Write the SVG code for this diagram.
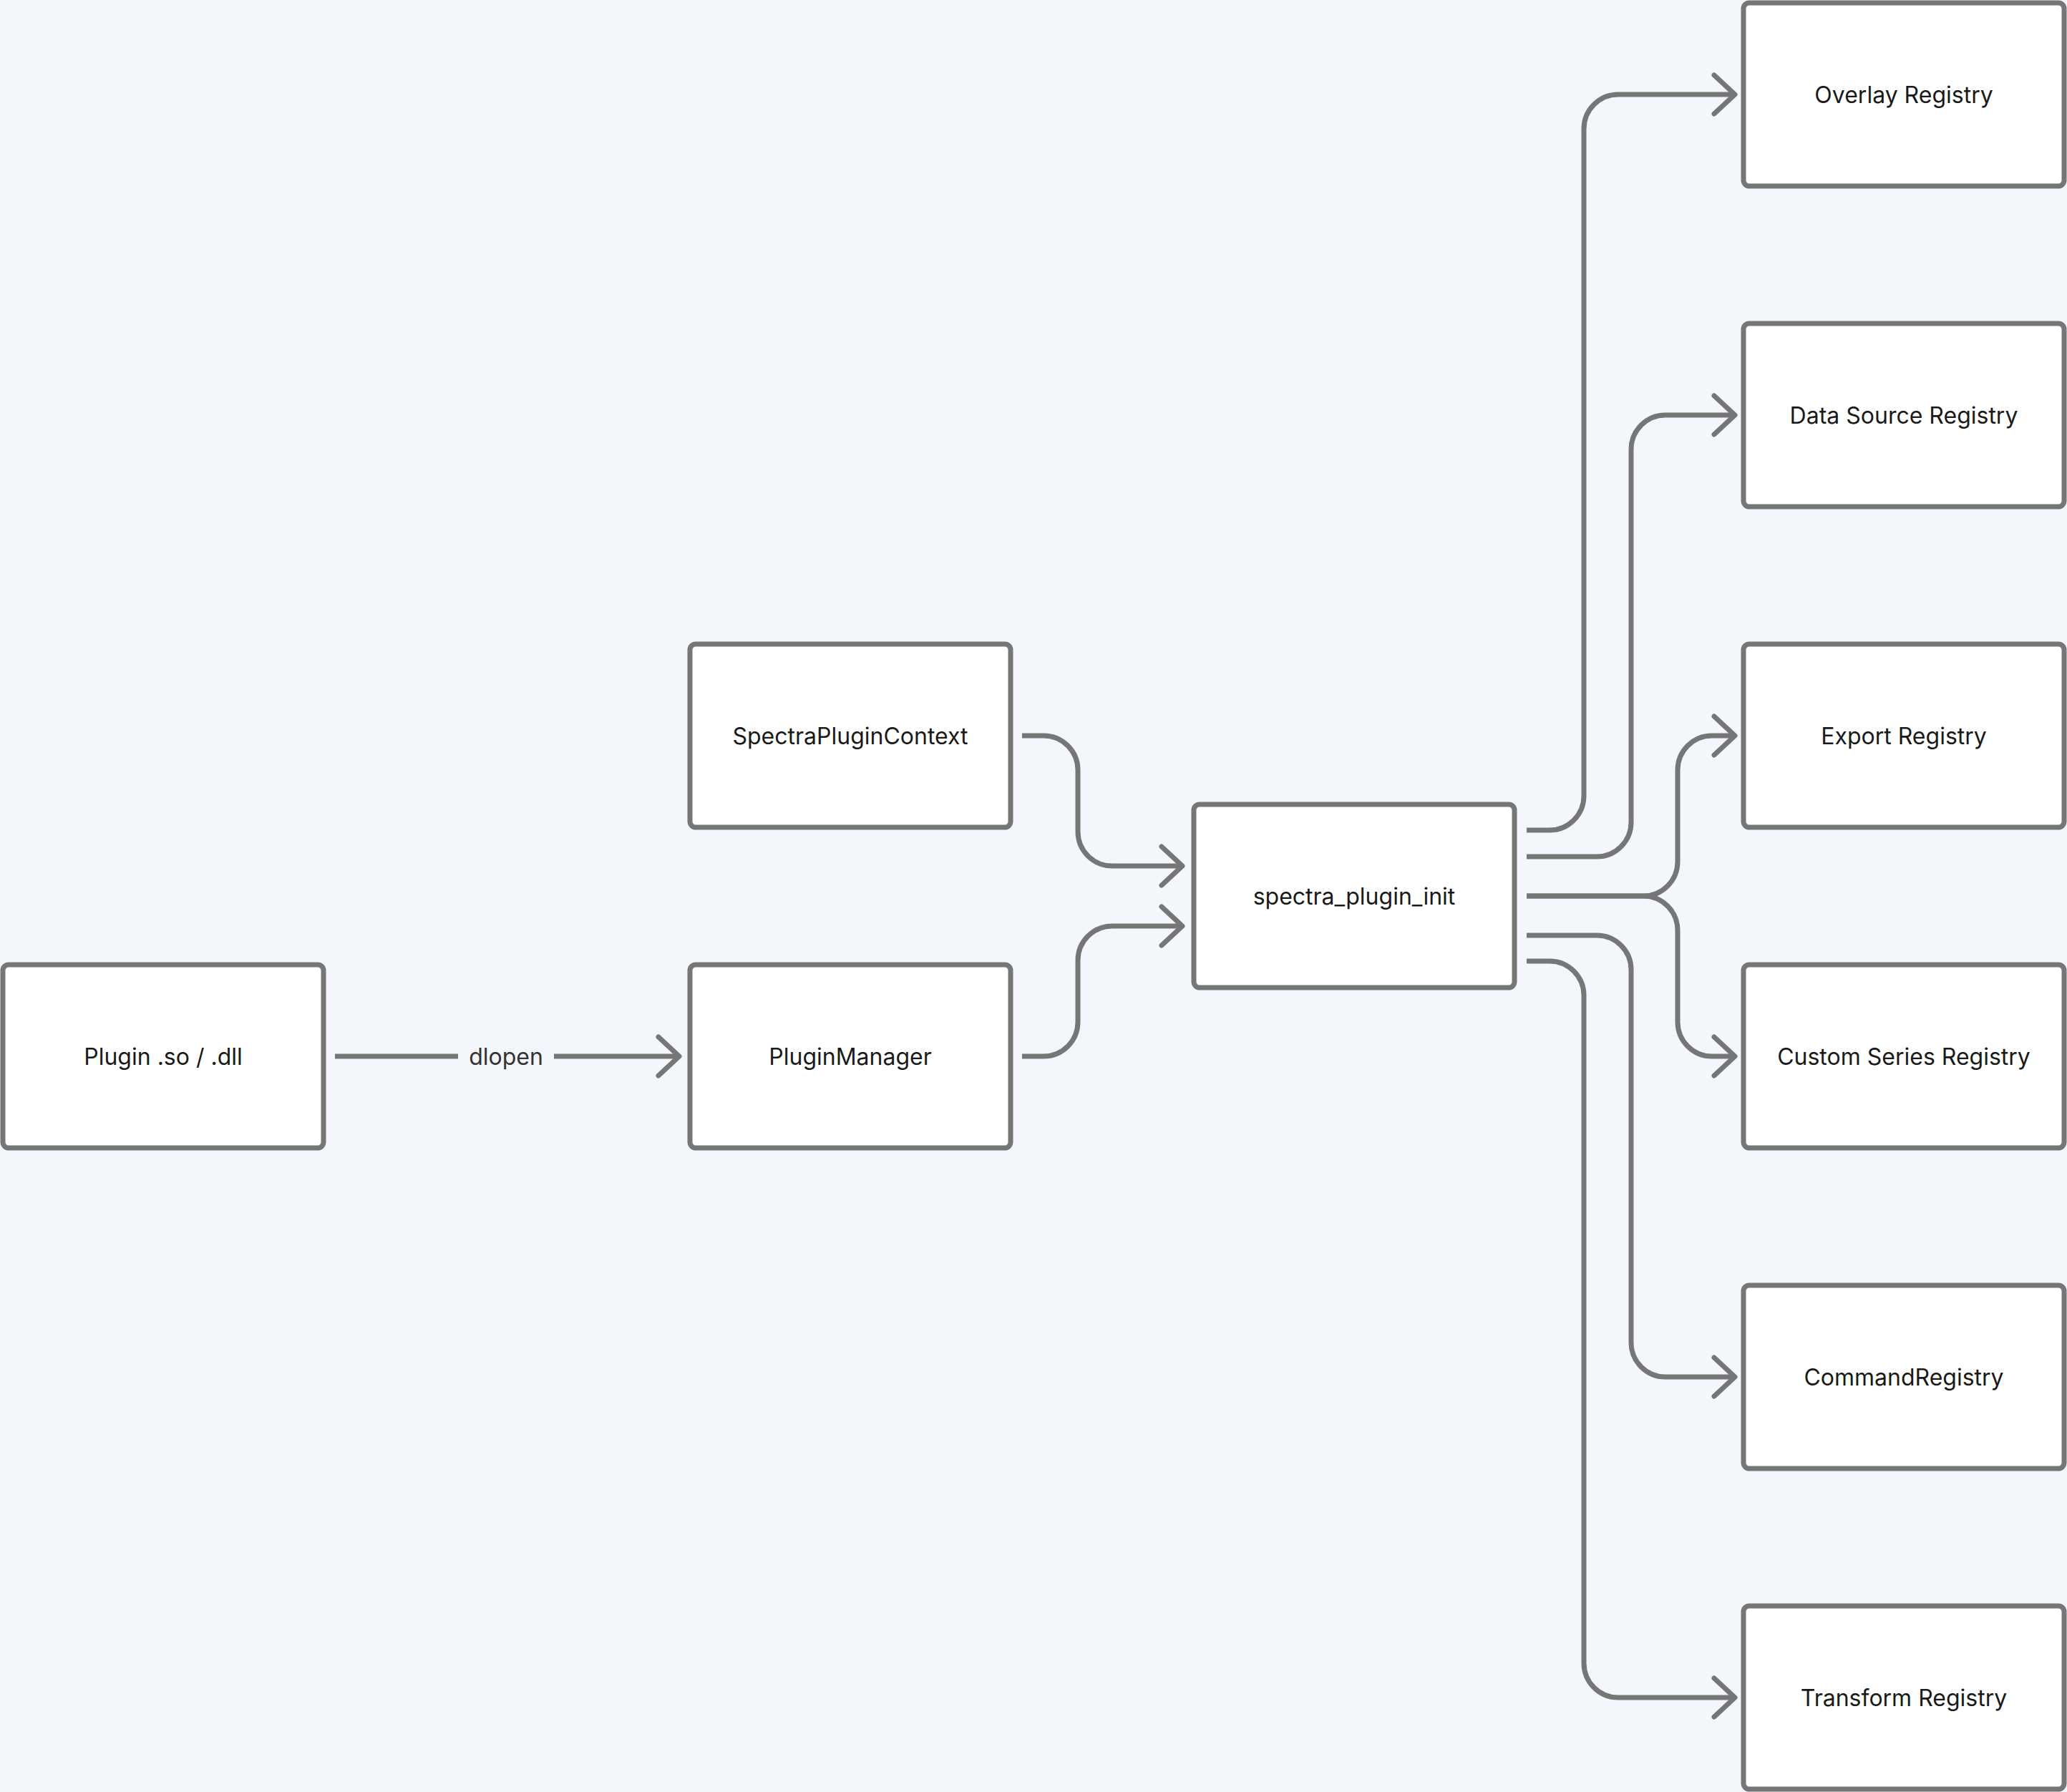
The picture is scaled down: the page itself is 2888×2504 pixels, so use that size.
<svg xmlns="http://www.w3.org/2000/svg" width="2888" height="2504" viewBox="0 0 2888 2504">
<style>
.node rect{fill:#ffffff;stroke:#767676;stroke-width:7}
.node text{font-family:Inter,"Liberation Sans",sans-serif;font-size:32px;fill:#1a1a1a;text-anchor:middle;dominant-baseline:central}
.edge{fill:none;stroke:#767676;stroke-width:7}
.lbl{font-family:Inter,"Liberation Sans",sans-serif;font-size:32px;fill:#333333;text-anchor:middle;dominant-baseline:central}
</style>
<defs>
<marker id="arr" markerUnits="userSpaceOnUse" viewBox="-40 -40 50 80" markerWidth="50" markerHeight="80" refX="0" refY="0" orient="auto">
<path d="M-29,-27 L0,0 L-29,27" fill="none" stroke="#767676" stroke-width="7" stroke-linecap="round" stroke-linejoin="round"/>
</marker>
</defs>
<rect x="0" y="0" width="2888" height="2504" fill="#f3f6fb"/>
<g id="connectors">
<path class="edge" d="M468,1476 H640"/>
<path class="edge" d="M774,1476 H949" marker-end="url(#arr)"/>
<text class="lbl" x="707" y="1476">dlopen</text>
<path class="edge" d="M1428,1028 H1458 A48,48 0 0 1 1506,1076 V1162 A48,48 0 0 0 1554,1210 H1652" marker-end="url(#arr)"/>
<path class="edge" d="M1428,1476 H1458 A48,48 0 0 0 1506,1428 V1342 A48,48 0 0 1 1554,1294 H1652" marker-end="url(#arr)"/>
<path class="edge" d="M2133,1160 H2165 A48,48 0 0 0 2213,1112 V180 A48,48 0 0 1 2261,132 H2424" marker-end="url(#arr)"/>
<path class="edge" d="M2133,1197 H2231 A48,48 0 0 0 2279,1149 V628 A48,48 0 0 1 2327,580 H2424" marker-end="url(#arr)"/>
<path class="edge" d="M2133,1252 H2296 A48,48 0 0 0 2344,1204 V1076 A48,48 0 0 1 2392,1028 H2424" marker-end="url(#arr)"/>
<path class="edge" d="M2133,1252 H2296 A48,48 0 0 1 2344,1300 V1428 A48,48 0 0 0 2392,1476 H2424" marker-end="url(#arr)"/>
<path class="edge" d="M2133,1307 H2231 A48,48 0 0 1 2279,1355 V1876 A48,48 0 0 0 2327,1924 H2424" marker-end="url(#arr)"/>
<path class="edge" d="M2133,1343 H2165 A48,48 0 0 1 2213,1391 V2324 A48,48 0 0 0 2261,2372 H2424" marker-end="url(#arr)"/>
</g>
<g id="plugin" class="node"><rect x="4" y="1348" width="448" height="256" rx="8"/><text x="228" y="1476">Plugin .so / .dll</text></g>
<g id="manager" class="node"><rect x="964" y="1348" width="448" height="256" rx="8"/><text x="1188" y="1476">PluginManager</text></g>
<g id="context" class="node"><rect x="964" y="900" width="448" height="256" rx="8"/><text x="1188" y="1028">SpectraPluginContext</text></g>
<g id="init" class="node"><rect x="1668" y="1124" width="448" height="256" rx="8"/><text x="1892" y="1252">spectra_plugin_init</text></g>
<g id="overlay" class="node"><rect x="2436" y="4" width="448" height="256" rx="8"/><text x="2660" y="132">Overlay Registry</text></g>
<g id="datasource" class="node"><rect x="2436" y="452" width="448" height="256" rx="8"/><text x="2660" y="580">Data Source Registry</text></g>
<g id="export" class="node"><rect x="2436" y="900" width="448" height="256" rx="8"/><text x="2660" y="1028">Export Registry</text></g>
<g id="custom" class="node"><rect x="2436" y="1348" width="448" height="256" rx="8"/><text x="2660" y="1476">Custom Series Registry</text></g>
<g id="command" class="node"><rect x="2436" y="1796" width="448" height="256" rx="8"/><text x="2660" y="1924">CommandRegistry</text></g>
<g id="transform" class="node"><rect x="2436" y="2244" width="448" height="256" rx="8"/><text x="2660" y="2372">Transform Registry</text></g>
</svg>
